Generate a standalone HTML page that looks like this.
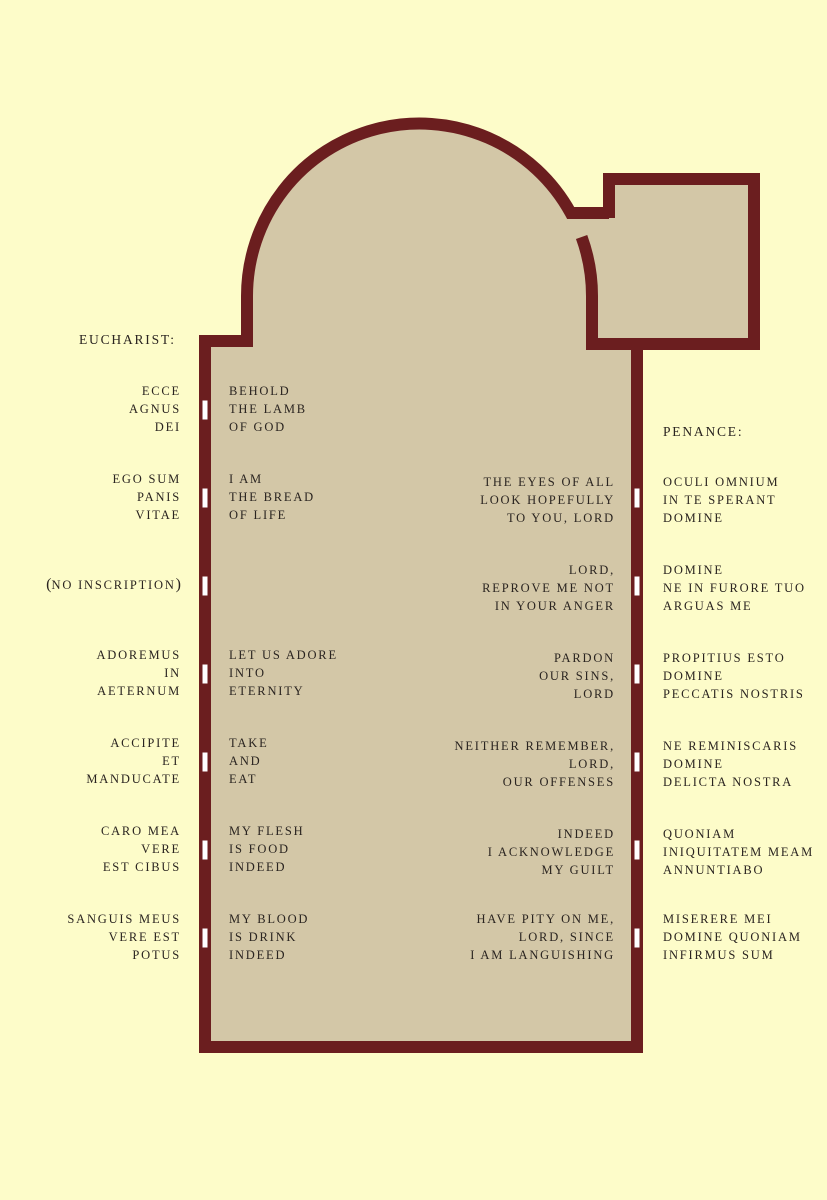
<!DOCTYPE html>
<html><head><meta charset="utf-8"><style>
html,body{margin:0;padding:0}
body{width:827px;height:1200px;background:#fdfcc9;position:relative;overflow:hidden;font-family:"Liberation Serif",serif;font-size:12.5px;letter-spacing:1.8px;color:#2a2420}
.t{position:absolute;line-height:18px;white-space:nowrap}
.r{text-align:right}
</style></head><body>
<svg width="827" height="1200" style="position:absolute;left:0;top:0">
<g fill="#d3c7a7">
<rect x="205" y="341" width="431" height="706"/>
<path d="M247 341 L247 296 A172.5 172.5 0 0 1 592 296 L592 341 Z"/>
<rect x="609" y="179" width="145" height="165"/>
<rect x="570" y="213" width="45" height="130"/>
</g>
<g fill="none" stroke="#6b1e1f" stroke-width="12">
<path d="M205 1047 L205 341 L247 341 L247 296 A172.5 172.5 0 0 1 570.7 213 L609 213"/>
<path d="M581.6 237 A172.5 172.5 0 0 1 592 296 L592 344 L637 344 L637 1047 L199 1047"/>
<path d="M609 218 L609 179 L754 179 L754 344 L630 344"/>
</g>
<g fill="#fff" stroke="#6b1e1f" stroke-width="1">
<rect x="202" y="400" width="6" height="20"/><rect x="202" y="488" width="6" height="20"/><rect x="202" y="576" width="6" height="20"/><rect x="202" y="664" width="6" height="20"/><rect x="202" y="752" width="6" height="20"/><rect x="202" y="840" width="6" height="20"/><rect x="202" y="928" width="6" height="20"/>
<rect x="634" y="488" width="6" height="20"/><rect x="634" y="576" width="6" height="20"/><rect x="634" y="664" width="6" height="20"/><rect x="634" y="752" width="6" height="20"/><rect x="634" y="840" width="6" height="20"/><rect x="634" y="928" width="6" height="20"/>
</g>
</svg>
<div class="t" style="left:79px;top:331px;font-size:13.5px">EUCHARIST:</div>
<div class="t" style="left:663px;top:423px;font-size:13.5px">PENANCE:</div>

<div class="t r" style="right:646px;top:382px">ECCE<br>AGNUS<br>DEI</div>
<div class="t r" style="right:646px;top:470px">EGO SUM<br>PANIS<br>VITAE</div>
<div class="t r" style="right:646px;top:576px"><span style="font-size:16px;letter-spacing:0">(</span>NO INSCRIPTION<span style="font-size:16px;letter-spacing:0">)</span></div>
<div class="t r" style="right:646px;top:646px">ADOREMUS<br>IN<br>AETERNUM</div>
<div class="t r" style="right:646px;top:734px">ACCIPITE<br>ET<br>MANDUCATE</div>
<div class="t r" style="right:646px;top:822px">CARO MEA<br>VERE<br>EST CIBUS</div>
<div class="t r" style="right:646px;top:910px">SANGUIS MEUS<br>VERE EST<br>POTUS</div>

<div class="t" style="left:229px;top:382px">BEHOLD<br>THE LAMB<br>OF GOD</div>
<div class="t" style="left:229px;top:470px">I AM<br>THE BREAD<br>OF LIFE</div>
<div class="t" style="left:229px;top:646px">LET US ADORE<br>INTO<br>ETERNITY</div>
<div class="t" style="left:229px;top:734px">TAKE<br>AND<br>EAT</div>
<div class="t" style="left:229px;top:822px">MY FLESH<br>IS FOOD<br>INDEED</div>
<div class="t" style="left:229px;top:910px">MY BLOOD<br>IS DRINK<br>INDEED</div>

<div class="t r" style="right:212px;top:473px">THE EYES OF ALL<br>LOOK HOPEFULLY<br>TO YOU, LORD</div>
<div class="t r" style="right:212px;top:561px">LORD,<br>REPROVE ME NOT<br>IN YOUR ANGER</div>
<div class="t r" style="right:212px;top:649px">PARDON<br>OUR SINS,<br>LORD</div>
<div class="t r" style="right:212px;top:737px">NEITHER REMEMBER,<br>LORD,<br>OUR OFFENSES</div>
<div class="t r" style="right:212px;top:825px">INDEED<br>I ACKNOWLEDGE<br>MY GUILT</div>
<div class="t r" style="right:212px;top:910px">HAVE PITY ON ME,<br>LORD, SINCE<br>I AM LANGUISHING</div>

<div class="t" style="left:663px;top:473px">OCULI OMNIUM<br>IN TE SPERANT<br>DOMINE</div>
<div class="t" style="left:663px;top:561px">DOMINE<br>NE IN FURORE TUO<br>ARGUAS ME</div>
<div class="t" style="left:663px;top:649px">PROPITIUS ESTO<br>DOMINE<br>PECCATIS NOSTRIS</div>
<div class="t" style="left:663px;top:737px">NE REMINISCARIS<br>DOMINE<br>DELICTA NOSTRA</div>
<div class="t" style="left:663px;top:825px">QUONIAM<br>INIQUITATEM MEAM<br>ANNUNTIABO</div>
<div class="t" style="left:663px;top:910px">MISERERE MEI<br>DOMINE QUONIAM<br>INFIRMUS SUM</div>
</body></html>
